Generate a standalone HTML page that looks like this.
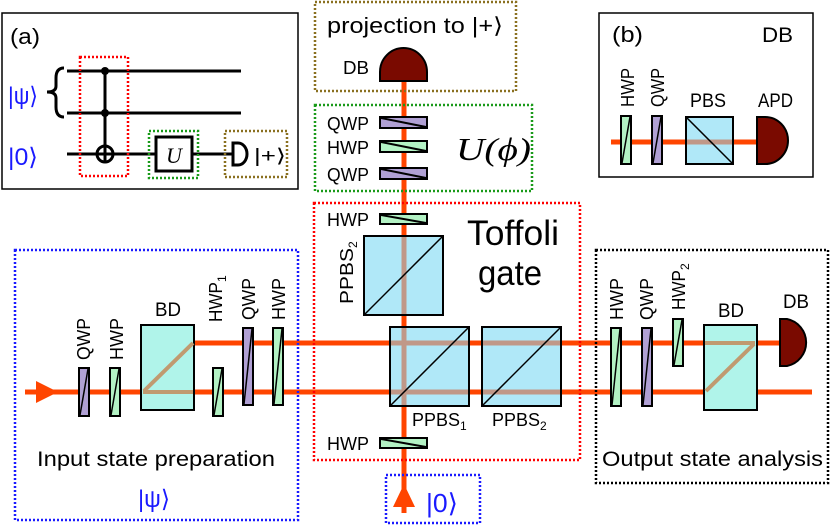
<!DOCTYPE html>
<html><head><meta charset="utf-8"><style>
html,body{margin:0;padding:0;background:#fff}
svg{display:block}
text{font-family:"Liberation Sans",sans-serif;fill:#000}
</style></head><body>
<svg width="830" height="526" viewBox="0 0 830 526" xmlns="http://www.w3.org/2000/svg">
<defs>
<g id="vp"><rect x="0" y="0" width="10" height="48" stroke="#000" stroke-width="2"/><line x1="1" y1="47" x2="9" y2="1" stroke="#000" stroke-width="1.5"/></g>
</defs>

<!-- (a) -->
<rect x="2" y="13" width="296" height="176" fill="none" stroke="#000" stroke-width="1.5"/>
<text x="10" y="44" font-size="22" textLength="30" lengthAdjust="spacingAndGlyphs">(a)</text>
<text x="8" y="104" font-size="24" textLength="30" lengthAdjust="spacingAndGlyphs" style="fill:#1a1aff">|ψ⟩</text>
<text x="8" y="165" font-size="24" textLength="30" lengthAdjust="spacingAndGlyphs" style="fill:#1a1aff">|0⟩</text>
<path d="M64,68 Q56,68 56,78 L56,86 Q56,92 47,92 Q56,92 56,98 L56,107 Q56,117 64,117" fill="none" stroke="#000" stroke-width="3"/>
<line x1="67" y1="71" x2="241" y2="71" stroke="#000" stroke-width="3"/>
<line x1="67" y1="113" x2="241" y2="113" stroke="#000" stroke-width="3"/>
<line x1="67" y1="154" x2="232" y2="154" stroke="#000" stroke-width="3"/>
<line x1="105" y1="71" x2="105" y2="154" stroke="#000" stroke-width="3"/>
<circle cx="105" cy="71" r="4"/><circle cx="105" cy="113" r="4"/>
<circle cx="105" cy="154" r="8" fill="none" stroke="#000" stroke-width="3"/>
<line x1="105" y1="146" x2="105" y2="162" stroke="#000" stroke-width="3"/>
<line x1="97" y1="154" x2="113" y2="154" stroke="#000" stroke-width="3"/>
<rect x="80" y="57" width="48" height="119" fill="none" stroke="#f00" stroke-width="2.5" stroke-dasharray="2,2"/>
<rect x="149" y="131" width="49" height="47" fill="none" stroke="#1a9a1a" stroke-width="2.5" stroke-dasharray="2,2"/>
<rect x="156" y="137" width="36" height="34" fill="#fff" stroke="#000" stroke-width="3"/>
<text x="174" y="163" font-size="22" text-anchor="middle" font-style="italic" style="font-family:'Liberation Serif',serif">U</text>
<rect x="225" y="131" width="62" height="46" fill="none" stroke="#8a7020" stroke-width="2.5" stroke-dasharray="2,2"/>
<path d="M233,143 L238,143 A9,11 0 0 1 238,165 L233,165 Z" fill="#fff" stroke="#000" stroke-width="3"/>
<text x="254" y="162" font-size="19" textLength="32" lengthAdjust="spacingAndGlyphs">|+⟩</text>

<!-- (b) -->
<rect x="599" y="13" width="214" height="164" fill="none" stroke="#000" stroke-width="1.5"/>
<text x="612" y="42" font-size="22" textLength="31" lengthAdjust="spacingAndGlyphs">(b)</text>
<text x="762" y="42" font-size="21" textLength="31" lengthAdjust="spacingAndGlyphs">DB</text>
<line x1="611" y1="142" x2="760" y2="142" stroke="#ff4500" stroke-width="5"/>
<rect x="686" y="117" width="47" height="47" fill="#b0e8f8" stroke="#000" stroke-width="2"/>
<line x1="687" y1="142" x2="732" y2="142" stroke="#c09888" stroke-width="5"/>
<line x1="686" y1="117" x2="733" y2="164" stroke="#000" stroke-width="1.5"/>
<use href="#vp" x="621" y="116" fill="#b3f2c4"/>
<use href="#vp" x="652" y="116" fill="#b0a0d4"/>
<path d="M757,117 L765,117 A23,23.5 0 0 1 765,164 L757,164 Z" fill="#7a0a00" stroke="#000" stroke-width="2"/>
<text x="690" y="107" font-size="19" textLength="36" lengthAdjust="spacingAndGlyphs">PBS</text>
<text x="758" y="107" font-size="19" textLength="35" lengthAdjust="spacingAndGlyphs">APD</text>
<text transform="translate(634,107) rotate(-90)" font-size="18" textLength="39" lengthAdjust="spacingAndGlyphs">HWP</text>
<text transform="translate(664,107) rotate(-90)" font-size="18" textLength="39" lengthAdjust="spacingAndGlyphs">QWP</text>

<!-- beams -->
<line x1="404" y1="81" x2="404" y2="513" stroke="#ff4500" stroke-width="5"/>
<line x1="25" y1="392" x2="812" y2="392" stroke="#ff4500" stroke-width="5"/>
<line x1="194" y1="343" x2="785" y2="343" stroke="#ff4500" stroke-width="5"/>
<polygon points="36,381 58,392 36,403" fill="#ff4500"/>
<polygon points="393,507 404,484 415,507" fill="#ff4500"/>

<!-- projection box -->
<rect x="315" y="2" width="201" height="89" fill="none" stroke="#8a7020" stroke-width="2.5" stroke-dasharray="2,2"/>
<text x="327" y="33" font-size="22" textLength="176" lengthAdjust="spacingAndGlyphs">projection to |+⟩</text>
<text x="343" y="74" font-size="18" textLength="26" lengthAdjust="spacingAndGlyphs">DB</text>
<path d="M380,81 L380,72 A23.5,24 0 0 1 427,72 L427,81 Z" fill="#7a0a00" stroke="#000" stroke-width="2"/>

<!-- U(phi) box -->
<rect x="315" y="105" width="217" height="86" fill="none" stroke="#1a9a1a" stroke-width="2.5" stroke-dasharray="2,2"/>
<g stroke="#000" stroke-width="2">
<rect x="380" y="117" width="47" height="11" fill="#b0a0d4"/><line x1="381" y1="118" x2="426" y2="127"/>
<rect x="380" y="141" width="47" height="11" fill="#b3f2c4"/><line x1="381" y1="142" x2="426" y2="151"/>
<rect x="380" y="168" width="47" height="11" fill="#b0a0d4"/><line x1="381" y1="169" x2="426" y2="178"/>
</g>
<text x="327" y="130" font-size="18" textLength="42" lengthAdjust="spacingAndGlyphs">QWP</text>
<text x="327" y="154" font-size="18" textLength="42" lengthAdjust="spacingAndGlyphs">HWP</text>
<text x="327" y="181" font-size="18" textLength="42" lengthAdjust="spacingAndGlyphs">QWP</text>
<text x="456" y="160" font-size="32" font-style="italic" textLength="75" lengthAdjust="spacingAndGlyphs" style="font-family:'Liberation Serif',serif">U(ϕ)</text>

<!-- Toffoli box -->
<rect x="314" y="203" width="266" height="257" fill="none" stroke="#f00" stroke-width="2.5" stroke-dasharray="2,2"/>
<text x="467" y="245" font-size="35" textLength="92" lengthAdjust="spacingAndGlyphs">Toffoli</text>
<text x="478" y="285" font-size="35" textLength="64" lengthAdjust="spacingAndGlyphs">gate</text>
<g stroke="#000" stroke-width="2">
<rect x="380" y="214" width="47" height="10" fill="#b3f2c4"/><line x1="381" y1="215" x2="426" y2="223"/>
<rect x="380" y="438" width="47" height="10" fill="#b3f2c4"/><line x1="381" y1="439" x2="426" y2="447"/>
</g>
<text x="327" y="226" font-size="18" textLength="42" lengthAdjust="spacingAndGlyphs">HWP</text>
<text x="327" y="450" font-size="18" textLength="42" lengthAdjust="spacingAndGlyphs">HWP</text>
<!-- cubes -->
<rect x="364" y="236" width="79" height="79" fill="#b0e8f8" stroke="#000" stroke-width="2"/>
<line x1="404" y1="237" x2="404" y2="314" stroke="#c09888" stroke-width="5"/>
<line x1="364" y1="315" x2="443" y2="236" stroke="#000" stroke-width="1.5"/>
<rect x="390" y="327" width="79" height="79" fill="#b0e8f8" stroke="#000" stroke-width="2"/>
<line x1="404" y1="328" x2="404" y2="405" stroke="#c09888" stroke-width="5"/>
<line x1="391" y1="343" x2="468" y2="343" stroke="#c09888" stroke-width="5"/>
<line x1="391" y1="392" x2="468" y2="392" stroke="#c09888" stroke-width="5"/>
<line x1="390" y1="406" x2="469" y2="327" stroke="#000" stroke-width="1.5"/>
<rect x="482" y="327" width="79" height="79" fill="#b0e8f8" stroke="#000" stroke-width="2"/>
<line x1="483" y1="343" x2="560" y2="343" stroke="#c09888" stroke-width="5"/>
<line x1="483" y1="392" x2="560" y2="392" stroke="#c09888" stroke-width="5"/>
<line x1="482" y1="406" x2="561" y2="327" stroke="#000" stroke-width="1.5"/>
<text transform="translate(353,304) rotate(-90)" font-size="18"><tspan textLength="56" lengthAdjust="spacingAndGlyphs">PPBS</tspan><tspan font-size="12" dy="4">2</tspan></text>
<text x="412" y="426" font-size="18"><tspan textLength="48" lengthAdjust="spacingAndGlyphs">PPBS</tspan><tspan font-size="12" dy="4">1</tspan></text>
<text x="492" y="426" font-size="18"><tspan textLength="48" lengthAdjust="spacingAndGlyphs">PPBS</tspan><tspan font-size="12" dy="4">2</tspan></text>

<!-- |0> box -->
<rect x="386" y="475" width="94" height="48" fill="none" stroke="#1a1aff" stroke-width="2.5" stroke-dasharray="2,2"/>
<text x="426" y="512" font-size="26" textLength="32" lengthAdjust="spacingAndGlyphs" style="fill:#1a1aff">|0⟩</text>

<!-- input box -->
<rect x="15" y="250" width="283" height="270" fill="none" stroke="#1a1aff" stroke-width="2.5" stroke-dasharray="2,2"/>
<rect x="141" y="325" width="53" height="85" fill="#b0f4ea" stroke="#000" stroke-width="2"/>
<line x1="143" y1="392" x2="193" y2="392" stroke="#c09a70" stroke-width="4"/>
<line x1="144" y1="391" x2="193" y2="343" stroke="#c09a70" stroke-width="4"/>
<use href="#vp" x="79" y="368" fill="#b0a0d4"/>
<use href="#vp" x="110" y="368" fill="#b3f2c4"/>
<use href="#vp" x="213" y="368" fill="#b3f2c4"/>
<rect x="243" y="328" width="10" height="77" fill="#b0a0d4" stroke="#000" stroke-width="2"/><line x1="244" y1="404" x2="252" y2="329" stroke="#000" stroke-width="1.5"/>
<rect x="273" y="328" width="10" height="77" fill="#b3f2c4" stroke="#000" stroke-width="2"/><line x1="274" y1="404" x2="282" y2="329" stroke="#000" stroke-width="1.5"/>
<text x="155" y="316" font-size="19" textLength="26" lengthAdjust="spacingAndGlyphs">BD</text>
<text transform="translate(90,360) rotate(-90)" font-size="18" textLength="42" lengthAdjust="spacingAndGlyphs">QWP</text>
<text transform="translate(123,360) rotate(-90)" font-size="18" textLength="42" lengthAdjust="spacingAndGlyphs">HWP</text>
<text transform="translate(222,322) rotate(-90)" font-size="18"><tspan textLength="40" lengthAdjust="spacingAndGlyphs">HWP</tspan><tspan font-size="12" dy="4">1</tspan></text>
<text transform="translate(255,320) rotate(-90)" font-size="18" textLength="42" lengthAdjust="spacingAndGlyphs">QWP</text>
<text transform="translate(285,320) rotate(-90)" font-size="18" textLength="42" lengthAdjust="spacingAndGlyphs">HWP</text>
<text x="37" y="466" font-size="21" textLength="238" lengthAdjust="spacingAndGlyphs">Input state preparation</text>
<text x="138" y="507" font-size="24" textLength="32" lengthAdjust="spacingAndGlyphs" style="fill:#1a1aff">|ψ⟩</text>

<!-- output box -->
<rect x="596" y="250" width="232" height="233" fill="none" stroke="#000" stroke-width="2.5" stroke-dasharray="2,2"/>
<rect x="611" y="328" width="10" height="78" fill="#b3f2c4" stroke="#000" stroke-width="2"/><line x1="612" y1="405" x2="620" y2="329" stroke="#000" stroke-width="1.5"/>
<rect x="642" y="328" width="10" height="78" fill="#b0a0d4" stroke="#000" stroke-width="2"/><line x1="643" y1="405" x2="651" y2="329" stroke="#000" stroke-width="1.5"/>
<rect x="673" y="319" width="10" height="47" fill="#b3f2c4" stroke="#000" stroke-width="2"/><line x1="674" y1="365" x2="682" y2="320" stroke="#000" stroke-width="1.5"/>
<rect x="704" y="325" width="53" height="85" fill="#b0f4ea" stroke="#000" stroke-width="2"/>
<line x1="705" y1="343" x2="755" y2="343" stroke="#c09a70" stroke-width="4"/>
<line x1="706" y1="391" x2="754" y2="344" stroke="#c09a70" stroke-width="4"/>
<path d="M780,319 L787,319 A24,24 0 0 1 787,366 L780,366 Z" fill="#7a0a00" stroke="#000" stroke-width="2"/>
<text x="718" y="317" font-size="19" textLength="26" lengthAdjust="spacingAndGlyphs">BD</text>
<text x="783" y="308" font-size="19" textLength="26" lengthAdjust="spacingAndGlyphs">DB</text>
<text transform="translate(623,320) rotate(-90)" font-size="18" textLength="42" lengthAdjust="spacingAndGlyphs">HWP</text>
<text transform="translate(653,320) rotate(-90)" font-size="18" textLength="42" lengthAdjust="spacingAndGlyphs">QWP</text>
<text transform="translate(685,310) rotate(-90)" font-size="18"><tspan textLength="40" lengthAdjust="spacingAndGlyphs">HWP</tspan><tspan font-size="12" dy="4">2</tspan></text>
<text x="602" y="466" font-size="21" textLength="221" lengthAdjust="spacingAndGlyphs">Output state analysis</text>
</svg>
</body></html>
